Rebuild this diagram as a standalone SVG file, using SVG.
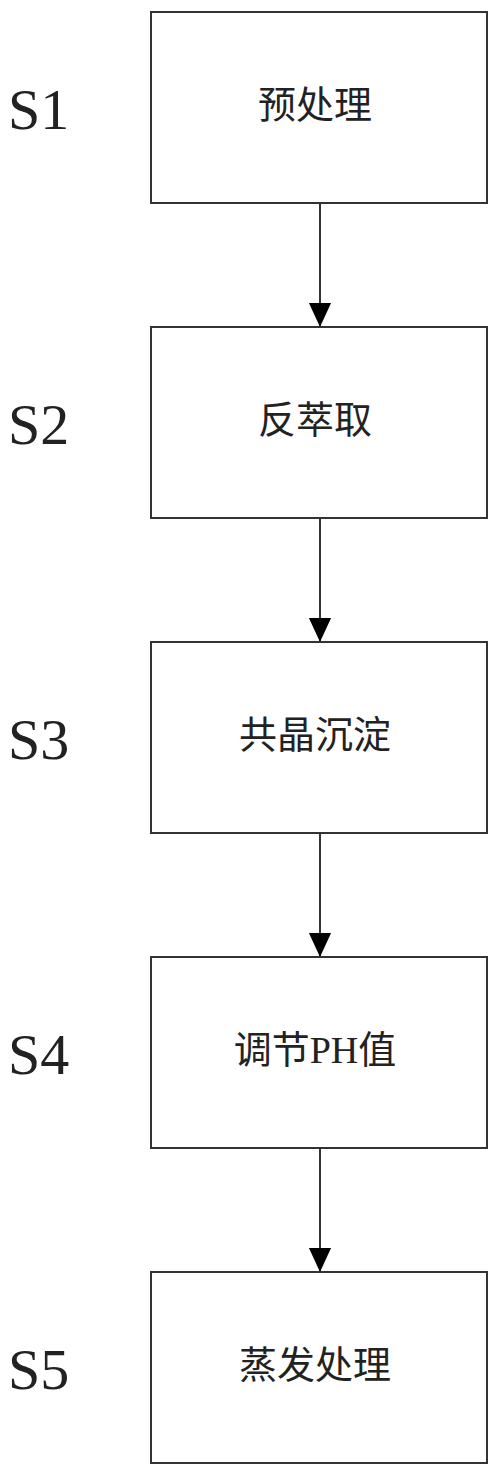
<svg xmlns="http://www.w3.org/2000/svg" width="500" height="1476" viewBox="0 0 500 1476">
<style>
.box{fill:#fff;stroke:#333;stroke-width:2}
.lbl{font-family:"Liberation Serif","Noto Sans CJK SC",serif;font-size:38px;fill:#222;text-anchor:middle;dominant-baseline:central}
.step{font-family:"Liberation Serif",serif;font-size:58px;fill:#222}
.conn{stroke:#333;stroke-width:2;fill:none}
</style>
<defs>
<marker id="ah" markerWidth="24" markerHeight="26" refX="12" refY="25" orient="auto" markerUnits="userSpaceOnUse" viewBox="0 0 24 26">
<path d="M0,0 L24,0 L12,26 Z" fill="#000" transform="rotate(-90 12 13) translate(0 0)"/>
</marker>
<marker id="arr" markerWidth="24" markerHeight="26" refX="26" refY="12" orient="auto" markerUnits="userSpaceOnUse" viewBox="0 0 26 24">
<path d="M0,0 L26,12 L0,24 Z" fill="#000"/>
</marker>
</defs>
<rect width="500" height="1476" fill="#fff"/>
<g id="connectors">
<line class="conn" x1="320" y1="203" x2="320" y2="327" marker-end="url(#arr)"/>
<line class="conn" x1="320" y1="518" x2="320" y2="642" marker-end="url(#arr)"/>
<line class="conn" x1="320" y1="833" x2="320" y2="957" marker-end="url(#arr)"/>
<line class="conn" x1="320" y1="1148" x2="320" y2="1272" marker-end="url(#arr)"/>
</g>
<g id="s1">
<text class="step" x="8" y="129">S1</text>
<rect class="box" x="151" y="12" width="336" height="191"/>
<text class="lbl" x="315" y="105">预处理</text>
</g>
<g id="s2">
<text class="step" x="8" y="444">S2</text>
<rect class="box" x="151" y="327" width="336" height="191"/>
<text class="lbl" x="315" y="420">反萃取</text>
</g>
<g id="s3">
<text class="step" x="8" y="759">S3</text>
<rect class="box" x="151" y="642" width="336" height="191"/>
<text class="lbl" x="315" y="735">共晶沉淀</text>
</g>
<g id="s4">
<text class="step" x="8" y="1074">S4</text>
<rect class="box" x="151" y="957" width="336" height="191"/>
<text class="lbl" x="315" y="1050">调节PH值</text>
</g>
<g id="s5">
<text class="step" x="8" y="1389">S5</text>
<rect class="box" x="151" y="1272" width="336" height="191"/>
<text class="lbl" x="315" y="1365">蒸发处理</text>
</g>
</svg>
